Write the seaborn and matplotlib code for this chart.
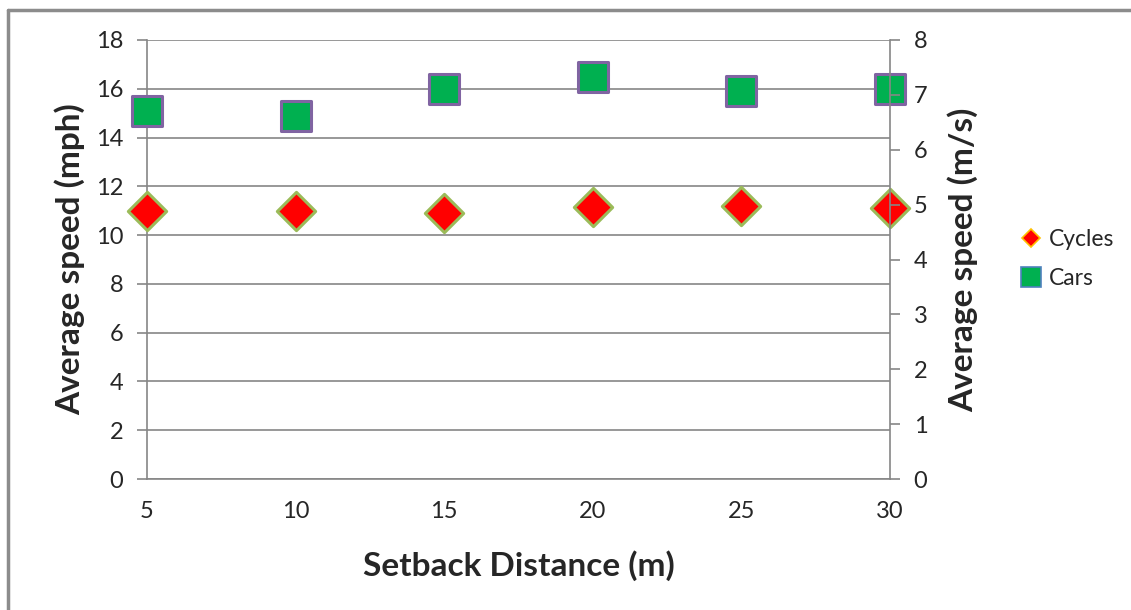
import matplotlib
matplotlib.use("Agg")
import matplotlib.pyplot as plt
import seaborn as sns
import pandas as pd
from matplotlib.lines import Line2D

distances = [5, 10, 15, 20, 25, 30]
cycles_mph = [11.0, 11.0, 10.9, 11.15, 11.2, 11.1]
cars_mph = [15.1, 14.9, 16.0, 16.5, 15.9, 16.0]
left_ticks = [0, 2, 4, 6, 8, 10, 12, 14, 16, 18]
right_ticks = [0, 1, 2, 3, 4, 5, 6, 7, 8]

sns.set_theme(style="white")
plt.rcParams['font.family'] = ['Lato', 'DejaVu Sans']

fig = plt.figure(figsize=(11.31, 6.10), dpi=100)
ax = fig.add_axes([147/1131, 1 - 479/610, (890-147)/1131, (479-40)/610])

df_cyc = pd.DataFrame({"dist": distances, "speed": cycles_mph})
df_car = pd.DataFrame({"dist": distances, "speed": cars_mph})

grid_c = "#868686"
for y in left_ticks:
    ax.axhline(y, color=grid_c, lw=1.2, zorder=0)

sns.scatterplot(data=df_car, x="dist", y="speed", ax=ax, marker="s", s=470,
                color="#00B050", edgecolor="#8064A2", linewidth=2.2, zorder=5, clip_on=False)
sns.scatterplot(data=df_cyc, x="dist", y="speed", ax=ax, marker="D", s=380,
                color="#FF0000", edgecolor="#9BBB59", linewidth=2.2, zorder=5, clip_on=False)

ax.set_xlim(5, 30)
ax.set_ylim(0, 18)
ax.set_xticks(distances)
ax.set_yticks(left_ticks)
for s in ["top", "right"]:
    ax.spines[s].set_visible(False)
for s in ["left", "bottom"]:
    ax.spines[s].set_color(grid_c)
    ax.spines[s].set_linewidth(1.2)
ax.tick_params(axis="both", which="major", direction="out", length=7, width=1.2,
               color=grid_c, labelsize=17, labelcolor="#262626")
ax.tick_params(axis="y", pad=10)
ax.tick_params(axis="x", pad=9)
ax.set_xlabel("Setback Distance (m)", fontsize=24, fontweight="bold", labelpad=20)
ax.set_ylabel("Average speed (mph)", fontsize=24, fontweight="bold", labelpad=8)

ax2 = ax.twinx()
ax2.set_ylim(0, 8)
ax2.set_yticks(right_ticks)
for s in ["top", "left", "bottom"]:
    ax2.spines[s].set_visible(False)
ax2.spines["right"].set_color(grid_c)
ax2.spines["right"].set_linewidth(1.2)
ax2.tick_params(axis="y", direction="out", length=7, width=1.2, color=grid_c,
                labelsize=17, labelcolor="#262626", pad=10)
ax2.set_ylabel("Average speed (m/s)", fontsize=24, fontweight="bold", labelpad=14)
ax2.grid(False)

handles = [
    Line2D([], [], marker="D", linestyle="none", markersize=9, markerfacecolor="#FF0000",
           markeredgecolor="#FFC000", markeredgewidth=1.2),
    Line2D([], [], marker="s", linestyle="none", markersize=14, markerfacecolor="#00B050",
           markeredgecolor="#4F81BD", markeredgewidth=1.2),
]
fig.legend(handles, ["Cycles", "Cars"], loc="center left", bbox_to_anchor=(997/1131, 1 - 259/610),
           frameon=False, fontsize=16.5, handletextpad=0.15, labelspacing=0.75, handlelength=1.2)

# figure border (only top and left edges visible)
fig.add_artist(Line2D([8/1131, 8/1131], [0, 1 - 10/610], transform=fig.transFigure,
                      color="#8C8C8C", lw=2.5))
fig.add_artist(Line2D([8/1131, 1], [1 - 10/610, 1 - 10/610], transform=fig.transFigure,
                      color="#8C8C8C", lw=2.5))

fig.savefig("out.png", dpi=100)
